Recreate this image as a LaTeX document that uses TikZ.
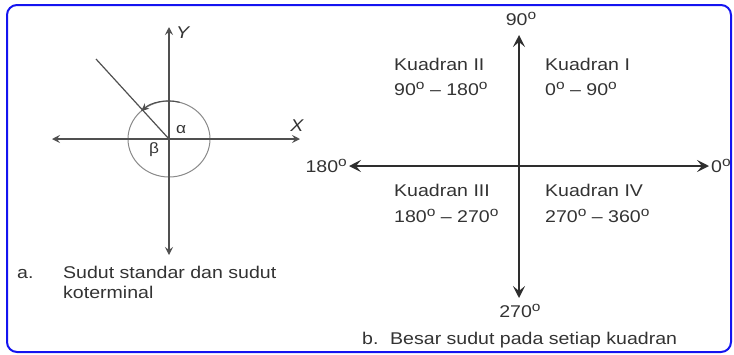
\documentclass[tikz,border=0pt]{standalone}
\usepackage{fontspec}
\setmainfont{Liberation Sans}[FakeStretch=1.15]
\usetikzlibrary{arrows.meta}
\definecolor{txt}{HTML}{333333}
\definecolor{axisA}{HTML}{505050}
\definecolor{axisB}{HTML}{2E2E2E}
\definecolor{circ}{HTML}{8A8A8A}
\definecolor{framec}{HTML}{1414F0}
\newcommand\dg{\raisebox{5.4pt}{\fontsize{13.5}{13.5}\selectfont o}}
\begin{document}
\begin{tikzpicture}[x=1pt,y=-1pt,
  lbl/.style={font=\fontsize{17}{20}\selectfont, text=txt, inner sep=0pt},
  greek/.style={font=\fontsize{15}{18}\selectfont, text=txt, inner sep=0pt},
  axA/.style={draw=axisA, line width=1.2pt, {Stealth[length=8pt,width=8pt,inset=3pt]}-{Stealth[length=8pt,width=8pt,inset=3pt]}},
  axB/.style={draw=axisB, line width=2.2pt, {Stealth[length=12pt,width=12pt,inset=5pt]}-{Stealth[length=12pt,width=12pt,inset=5pt]}},
  framebox/.style={draw=framec, line width=2pt, rounded corners=10pt}]
\useasboundingbox (0,0) rectangle (734,354);
\draw[framebox] (7,5) rectangle (731,352);

% ---- left diagram
\coordinate (O1) at (169,139);
\coordinate (L1) at (52,139);
\coordinate (R1) at (300,139);
\coordinate (T1) at (169,27);
\coordinate (B1) at (169,255);
\coordinate (P1) at (96,59);
\draw[circ, line width=1pt] (O1) ellipse [x radius=41, y radius=38];
\draw[axA] (L1) -- (R1);
\draw[axA] (B1) -- (T1);
\draw[draw=axisA, line width=1.2pt] (O1) -- (P1);
\draw[draw=axisA, line width=1.1pt, -{Stealth[length=8pt,width=7pt,inset=2.5pt]}]
  ([shift={(-75:41 and 38)}]O1) arc [start angle=-75, end angle=-133, x radius=41, y radius=38];
\node[lbl, font=\fontsize{17}{20}\selectfont\itshape, anchor=west] (Ylab) at (176,33) {Y};
\node[lbl, font=\fontsize{17}{20}\selectfont\itshape, anchor=center] (Xlab) at (297,126) {X};
\node[greek] (alpha) at (181,130) {α};
\node[greek] (beta) at (154,150) {β};
\node[lbl, anchor=base west] (capa) at (17,278) {a.};
\node[lbl, anchor=base west] (capa1) at (63,278) {Sudut standar dan sudut};
\node[lbl, anchor=base west] (capa2) at (63,298) {koterminal};

% ---- right diagram
\coordinate (O2) at (519,166);
\coordinate (L2) at (349,166);
\coordinate (R2) at (709,166);
\coordinate (T2) at (519,35);
\coordinate (B2) at (519,298);
\draw[axB] (L2) -- (R2);
\draw[axB] (B2) -- (T2);
\node[lbl, anchor=base] (d90) at (521,25) {90\dg};
\node[lbl, anchor=base west] (d0) at (711,172) {0\dg};
\node[lbl, anchor=base east] (d180) at (347,172) {180\dg};
\node[lbl, anchor=base] (d270) at (520,317) {270\dg};
\node[lbl, anchor=base west] (q2) at (394,70) {Kuadran II};
\node[lbl, anchor=base west] (q2r) at (394,95) {90\dg{} -- 180\dg};
\node[lbl, anchor=base west] (q1) at (545,70) {Kuadran I};
\node[lbl, anchor=base west] (q1r) at (545,95) {0\dg{} -- 90\dg};
\node[lbl, anchor=base west] (q3) at (394,196) {Kuadran III};
\node[lbl, anchor=base west] (q3r) at (394,222) {180\dg{} -- 270\dg};
\node[lbl, anchor=base west] (q4) at (545,196) {Kuadran IV};
\node[lbl, anchor=base west] (q4r) at (545,222) {270\dg{} -- 360\dg};
\node[lbl, anchor=base west] (capb) at (362,344) {b.};
\node[lbl, anchor=base west] (capb1) at (390,344) {Besar sudut pada setiap kuadran};
\end{tikzpicture}
\end{document}
